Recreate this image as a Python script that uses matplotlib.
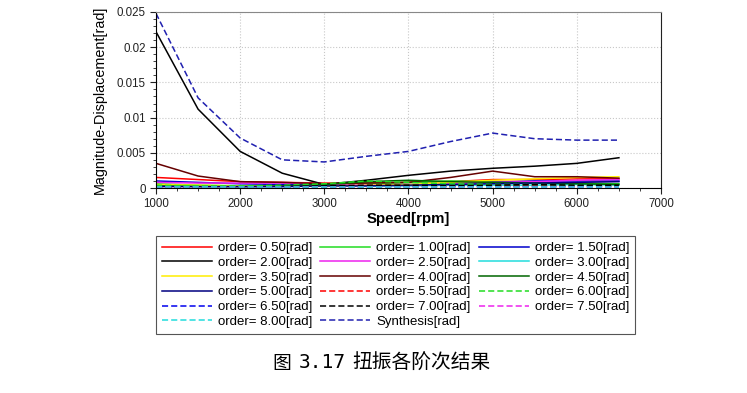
import matplotlib
matplotlib.use('Agg')
from matplotlib import pyplot as plt
from matplotlib.ticker import MultipleLocator, FuncFormatter

speed = [1000, 1500, 2000, 2500, 3000, 3500, 4000, 4500, 5000, 5500, 6000, 6500]

order_050 = [0.0015, 0.0012, 0.0009, 0.0008, 0.0007, 0.0007, 0.0008, 0.0009, 0.0012, 0.0012, 0.0013, 0.0013]
order_100 = [0.0006, 0.0004, 0.0003, 0.0003, 0.0004, 0.0006, 0.0008, 0.0010, 0.0009, 0.0008, 0.0007, 0.0006]
order_150 = [0.0010, 0.0008, 0.0006, 0.0005, 0.0004, 0.0004, 0.0005, 0.0006, 0.0008, 0.0010, 0.0010, 0.0010]
order_200 = [0.0222, 0.0112, 0.0052, 0.0021, 0.0005, 0.0011, 0.0018, 0.0024, 0.0028, 0.0031, 0.0035, 0.0043]
order_250 = [0.0008, 0.0007, 0.0007, 0.0007, 0.0006, 0.0005, 0.0004, 0.0006, 0.0008, 0.0009, 0.0011, 0.0012]
order_300 = [0.0003, 0.0003, 0.0002, 0.0002, 0.0003, 0.0003, 0.0003, 0.0004, 0.0004, 0.0004, 0.0005, 0.0004]
order_350 = [0.0005, 0.0004, 0.0003, 0.0003, 0.0003, 0.0004, 0.0005, 0.0008, 0.0011, 0.0013, 0.0015, 0.0016]
order_400 = [0.0035, 0.0017, 0.0009, 0.0008, 0.0006, 0.0007, 0.0008, 0.0015, 0.0024, 0.0016, 0.0016, 0.0014]
order_450 = [0.0003, 0.0002, 0.0002, 0.0003, 0.0005, 0.0009, 0.0011, 0.0009, 0.0008, 0.0007, 0.0006, 0.0005]
order_500 = [0.0002, 0.0002, 0.0002, 0.0002, 0.0003, 0.0003, 0.0004, 0.0005, 0.0006, 0.0007, 0.0008, 0.0009]
order_550 = [0.0001, 0.0001, 0.0001, 0.0002, 0.0002, 0.0003, 0.0003, 0.0003, 0.0003, 0.0003, 0.0003, 0.0003]
order_600 = [0.0004, 0.0003, 0.0003, 0.0004, 0.0006, 0.0010, 0.0008, 0.0006, 0.0005, 0.0005, 0.0004, 0.0003]
order_650 = [0.0001, 0.0001, 0.0001, 0.0001, 0.0002, 0.0002, 0.0002, 0.0002, 0.0002, 0.0002, 0.0002, 0.0002]
order_700 = [0.0001, 0.0001, 0.0001, 0.0002, 0.0003, 0.0004, 0.0004, 0.0003, 0.0004, 0.0005, 0.0004, 0.0004]
order_750 = [0.0001, 0.0001, 0.0001, 0.0001, 0.0001, 0.0001, 0.0001, 0.0001, 0.0001, 0.0001, 0.0001, 0.0001]
order_800 = [0.0002, 0.0002, 0.0002, 0.0002, 0.0002, 0.0002, 0.0002, 0.0002, 0.0002, 0.0002, 0.0002, 0.0002]
synthesis = [0.0248, 0.0128, 0.0071, 0.0040, 0.0037, 0.0045, 0.0052, 0.0066, 0.0078, 0.0070, 0.0068, 0.0068]

labels = ['order= 0.50[rad]', 'order= 1.00[rad]', 'order= 1.50[rad]', 'order= 2.00[rad]',
          'order= 2.50[rad]', 'order= 3.00[rad]', 'order= 3.50[rad]', 'order= 4.00[rad]',
          'order= 4.50[rad]', 'order= 5.00[rad]', 'order= 5.50[rad]', 'order= 6.00[rad]',
          'order= 6.50[rad]', 'order= 7.00[rad]', 'order= 7.50[rad]', 'order= 8.00[rad]',
          'Synthesis[rad]']
series = [order_050, order_100, order_150, order_200, order_250, order_300, order_350, order_400,
          order_450, order_500, order_550, order_600, order_650, order_700, order_750, order_800,
          synthesis]
STYLES = [('#ff0000', '-'), ('#22dd22', '-'), ('#0000cc', '-'), ('#000000', '-'),
          ('#ee22ee', '-'), ('#22dddd', '-'), ('#ffee00', '-'), ('#660000', '-'),
          ('#006600', '-'), ('#000080', '-'), ('#ff0000', '--'), ('#22dd22', '--'),
          ('#0000ee', '--'), ('#000000', '--'), ('#ee22ee', '--'), ('#22dddd', '--'),
          ('#2020b0', '--')]
FONT = 'Liberation Sans'

fig = plt.figure(figsize=(7.47, 3.93), dpi=100)
ax = fig.add_axes([156 / 747, 1 - 188 / 393, (661 - 156) / 747, 176 / 393])

handles = []
for vals, lab, (col, ls) in zip(series, labels, STYLES):
    h, = ax.plot(speed, vals, color=col, linestyle=ls, linewidth=1.1, label=lab,
                 dashes=(4, 2) if ls == '--' else (None, None))
    handles.append(h)

ax.set_xlim(1000, 7000)
ax.set_ylim(0, 0.025)
ax.xaxis.set_major_locator(MultipleLocator(1000))
ax.xaxis.set_minor_locator(MultipleLocator(250))
ax.yaxis.set_major_locator(MultipleLocator(0.005))
ax.yaxis.set_minor_locator(MultipleLocator(0.001))
ax.yaxis.set_major_formatter(FuncFormatter(lambda v, p: f'{v:g}'))
ax.tick_params(which='both', direction='out', labelsize=8.3, colors='#222222', length=4)
ax.tick_params(which='minor', length=2.5)
ax.grid(True, which='major', linestyle=':', color='#c8c8c8', linewidth=0.8)
ax.spines['top'].set_color('#888888')
ax.spines['right'].set_color('#222222')
ax.set_xlabel('Speed[rpm]', fontsize=10.8, fontweight='bold', family=FONT, labelpad=1)
ax.set_ylabel('Magnitude-Displacement[rad]', fontsize=10.4, family=FONT, labelpad=7)
for t in ax.get_xticklabels() + ax.get_yticklabels():
    t.set_family(FONT)

# legend in row-major order like the source tool
order = [0, 3, 6, 9, 12, 15, 1, 4, 7, 10, 13, 16, 2, 5, 8, 11, 14]
leg = fig.legend([handles[i] for i in order], [labels[i] for i in order], ncol=3,
                 loc='upper left', bbox_to_anchor=(156 / 747, 1 - 236 / 393), borderaxespad=0,
                 prop={'family': FONT, 'size': 9.5}, fancybox=False,
                 edgecolor='#555555', handlelength=3.8, handletextpad=0.45,
                 columnspacing=0.6, labelspacing=0.19, borderpad=0.45, framealpha=1)
leg.get_frame().set_linewidth(0.8)

# caption, pieces placed like the source page
cap_y = 1 - 363 / 393
fig.text(272 / 747, cap_y, '图', ha='left', va='center', fontsize=13.5,
         family=['Noto Sans CJK SC', 'DejaVu Sans'])
fig.text(299 / 747, cap_y, '3.17', ha='left', va='center', fontsize=14,
         family='DejaVu Sans Mono')
fig.text(352 / 747, cap_y, '扭振各阶次结果', ha='left', va='center', fontsize=14.2,
         family=['Noto Sans CJK SC', 'DejaVu Sans'])

plt.savefig('out.png', dpi=100)
